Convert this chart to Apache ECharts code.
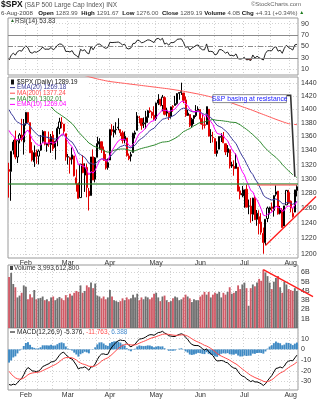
<!DOCTYPE html>
<html><head><meta charset="utf-8">
<script src="https://cdn.jsdelivr.net/npm/echarts@6/dist/echarts.min.js"></script>
<style>html,body{margin:0;padding:0;background:#fff}#c{width:322px;height:400px}</style>
</head><body><div id="c"></div>
<script>
// Daily sessions shown on the chart, 22 Jan - 6 Aug 2008
const dates = [
 '2008-01-22','2008-01-23','2008-01-24','2008-01-25','2008-01-28','2008-01-29','2008-01-30','2008-01-31',
 '2008-02-01','2008-02-04','2008-02-05','2008-02-06','2008-02-07','2008-02-08','2008-02-11','2008-02-12','2008-02-13','2008-02-14','2008-02-15','2008-02-19','2008-02-20','2008-02-21','2008-02-22','2008-02-25','2008-02-26','2008-02-27','2008-02-28','2008-02-29',
 '2008-03-03','2008-03-04','2008-03-05','2008-03-06','2008-03-07','2008-03-10','2008-03-11','2008-03-12','2008-03-13','2008-03-14','2008-03-17','2008-03-18','2008-03-19','2008-03-20','2008-03-24','2008-03-25','2008-03-26','2008-03-27','2008-03-28','2008-03-31',
 '2008-04-01','2008-04-02','2008-04-03','2008-04-04','2008-04-07','2008-04-08','2008-04-09','2008-04-10','2008-04-11','2008-04-14','2008-04-15','2008-04-16','2008-04-17','2008-04-18','2008-04-21','2008-04-22','2008-04-23','2008-04-24','2008-04-25','2008-04-28','2008-04-29','2008-04-30',
 '2008-05-01','2008-05-02','2008-05-05','2008-05-06','2008-05-07','2008-05-08','2008-05-09','2008-05-12','2008-05-13','2008-05-14','2008-05-15','2008-05-16','2008-05-19','2008-05-20','2008-05-21','2008-05-22','2008-05-23','2008-05-27','2008-05-28','2008-05-29','2008-05-30',
 '2008-06-02','2008-06-03','2008-06-04','2008-06-05','2008-06-06','2008-06-09','2008-06-10','2008-06-11','2008-06-12','2008-06-13','2008-06-16','2008-06-17','2008-06-18','2008-06-19','2008-06-20','2008-06-23','2008-06-24','2008-06-25','2008-06-26','2008-06-27','2008-06-30',
 '2008-07-01','2008-07-02','2008-07-03','2008-07-07','2008-07-08','2008-07-09','2008-07-10','2008-07-11','2008-07-14','2008-07-15','2008-07-16','2008-07-17','2008-07-18','2008-07-21','2008-07-22','2008-07-23','2008-07-24','2008-07-25','2008-07-28','2008-07-29','2008-07-30','2008-07-31',
 '2008-08-01','2008-08-04','2008-08-05','2008-08-06'
];
const opens = [
 1312.94,1310.41,1340.13,1357.32,1330.70,1355.94,1362.22,1351.98,
 1378.60,1395.38,1380.28,1339.48,1324.01,1336.88,1331.92,1340.55,1353.12,1367.33,1347.52,1355.86,1348.39,1362.21,1344.22,1352.75,1371.76,1378.95,1378.16,1364.07,
 1330.45,1329.58,1327.69,1332.20,1301.53,1293.16,1274.40,1321.13,1305.26,1316.05,1283.21,1277.16,1330.97,1299.67,1330.29,1349.07,1352.45,1340.34,1327.02,1315.92,
 1326.41,1369.96,1365.69,1369.85,1373.69,1370.16,1365.50,1355.37,1357.98,1332.20,1331.72,1337.02,1363.37,1369.00,1387.72,1386.43,1378.40,1380.52,1387.88,1397.96,1395.61,1391.22,
 1385.97,1409.16,1415.34,1405.60,1417.49,1394.29,1394.90,1389.40,1404.40,1405.65,1408.36,1423.89,1425.28,1424.49,1414.06,1390.83,1392.20,1375.97,1386.54,1390.50,1398.36,
 1399.62,1386.42,1376.26,1377.48,1400.06,1360.83,1358.98,1357.09,1335.78,1341.81,1358.85,1360.71,1349.59,1336.89,1341.02,1319.77,1317.23,1314.54,1316.29,1283.60,1278.06,
 1276.69,1285.82,1262.96,1262.90,1251.84,1273.38,1245.25,1248.66,1241.61,1226.83,1214.65,1246.31,1258.22,1261.82,1257.08,1278.87,1283.22,1253.51,1257.76,1236.38,1264.52,1281.37,
 1269.42,1253.27,1254.87,1283.99
];
const highs = [
 1322.53,1339.02,1355.15,1368.56,1353.97,1364.93,1385.86,1385.62,
 1396.02,1395.38,1380.28,1351.96,1347.16,1341.22,1341.40,1362.10,1369.23,1368.16,1350.00,1367.28,1363.71,1367.94,1354.30,1374.36,1387.34,1388.34,1378.16,1364.07,
 1335.13,1331.03,1344.19,1332.20,1313.24,1295.01,1320.65,1333.26,1321.68,1321.47,1287.50,1330.74,1341.51,1330.67,1359.68,1357.47,1352.45,1345.62,1334.87,1328.52,
 1370.18,1377.95,1375.66,1380.91,1386.74,1370.16,1368.39,1367.24,1357.98,1335.64,1337.72,1365.49,1368.60,1395.90,1390.23,1386.43,1387.87,1397.72,1399.11,1402.90,1397.00,1404.57,
 1410.07,1422.72,1415.34,1421.57,1419.54,1402.35,1394.90,1404.06,1406.30,1420.19,1424.40,1425.82,1440.24,1424.49,1419.12,1399.07,1392.20,1387.40,1391.25,1406.32,1404.46,
 1399.62,1393.12,1388.18,1404.05,1400.06,1370.63,1366.84,1357.09,1353.03,1360.03,1364.70,1366.59,1349.59,1347.66,1341.02,1323.78,1326.02,1335.63,1316.29,1289.45,1290.31,
 1285.31,1292.17,1271.73,1273.95,1274.17,1277.36,1257.65,1257.27,1253.50,1234.35,1245.52,1262.31,1262.23,1267.74,1277.42,1291.17,1283.22,1263.23,1260.09,1263.20,1284.33,1284.93,
 1270.52,1260.49,1284.88,1291.67
];
const lows = [
 1274.29,1270.05,1334.31,1327.50,1322.26,1350.19,1352.95,1334.08,
 1375.93,1379.69,1336.64,1324.34,1316.75,1321.06,1320.32,1339.36,1350.78,1347.31,1338.13,1345.05,1336.55,1339.34,1327.04,1346.03,1363.29,1372.00,1363.16,1325.42,
 1320.04,1307.39,1320.22,1303.42,1282.43,1272.66,1274.40,1307.86,1282.11,1274.86,1256.98,1277.16,1298.42,1295.22,1330.29,1341.21,1336.41,1325.66,1312.95,1312.81,
 1326.41,1361.55,1358.68,1362.83,1369.02,1360.62,1349.97,1350.11,1331.21,1326.16,1324.35,1337.02,1357.25,1369.00,1379.25,1369.84,1372.24,1371.09,1379.98,1394.40,1386.70,1384.25,
 1383.07,1406.25,1404.37,1397.10,1391.16,1389.39,1384.11,1386.20,1396.26,1405.65,1406.87,1414.35,1421.63,1409.09,1388.81,1390.23,1373.72,1373.07,1378.16,1388.59,1398.08,
 1377.79,1370.12,1371.74,1377.48,1359.90,1350.62,1351.56,1335.47,1331.29,1341.71,1352.07,1350.54,1333.40,1330.78,1314.46,1315.31,1304.42,1314.54,1283.15,1272.00,1274.86,
 1260.68,1261.51,1252.01,1240.68,1242.84,1244.57,1236.76,1225.35,1225.01,1200.44,1211.39,1241.49,1251.81,1255.70,1248.83,1276.06,1251.48,1251.75,1234.37,1236.38,1264.52,1265.97,
 1254.54,1247.45,1254.67,1276.00
];
const closes = [
 1310.50,1338.60,1352.07,1330.61,1353.96,1362.30,1355.81,1378.55,
 1395.42,1380.82,1336.64,1326.45,1336.91,1331.29,1339.13,1348.86,1367.21,1348.86,1349.99,1348.78,1360.03,1342.53,1353.11,1371.80,1381.29,1380.02,1367.68,1330.63,
 1331.34,1326.75,1333.70,1304.34,1293.37,1273.37,1320.65,1308.77,1315.48,1288.14,1276.60,1330.74,1298.42,1329.51,1349.88,1352.99,1341.13,1325.76,1315.22,1322.70,
 1370.18,1367.53,1369.31,1370.40,1372.54,1365.54,1354.49,1360.55,1332.83,1328.32,1334.43,1364.71,1365.56,1390.33,1388.17,1375.94,1379.93,1388.82,1397.84,1396.37,1390.94,1385.59,
 1409.34,1413.90,1407.49,1418.26,1392.57,1397.68,1388.28,1403.58,1403.04,1408.66,1423.57,1425.35,1426.63,1413.40,1390.71,1394.35,1375.93,1385.35,1390.84,1398.26,1400.38,
 1385.67,1377.65,1377.20,1404.05,1360.68,1361.76,1358.44,1335.49,1339.87,1360.03,1360.14,1350.93,1337.81,1342.83,1317.93,1318.00,1314.29,1321.97,1283.15,1278.38,1280.00,
 1284.91,1261.52,1262.90,1252.31,1273.70,1244.69,1253.39,1239.49,1228.30,1214.91,1245.36,1260.32,1260.68,1260.00,1277.00,1282.19,1252.54,1257.76,1234.37,1263.20,1284.26,1267.38,
 1260.31,1249.01,1284.88,1289.19
];
// Volume in billions of shares
const volumesB = [
 5.5,5.95,4.75,4.4,3.3,3.5,3.8,4.6,
 4.45,3.1,3.65,3.3,4.1,3.1,3.2,3.25,3.4,3.0,3.1,2.9,3.3,3.4,3.0,3.2,3.35,3.2,3.0,3.55,
 3.3,3.7,3.5,3.8,4.0,3.9,4.6,3.8,4.0,4.6,4.4,4.9,4.3,4.8,3.5,3.4,3.2,3.4,3.1,3.3,
 4.1,3.4,3.0,2.9,2.8,2.9,3.2,3.0,3.3,3.1,3.2,3.6,3.3,3.7,3.0,3.3,3.1,3.4,3.3,3.1,3.3,3.7,
 3.8,3.3,2.9,3.4,3.5,3.0,2.8,2.9,3.2,3.4,3.3,3.0,3.1,3.3,3.6,3.4,3.2,2.8,3.1,3.0,3.0,
 3.4,3.6,3.9,3.6,3.9,3.3,3.6,3.8,3.7,3.9,3.3,3.8,3.6,3.9,4.4,3.7,3.8,4.0,4.6,4.2,4.7,
 4.9,4.3,2.4,4.3,4.7,4.5,4.9,5.3,5.1,6.3,6.0,5.6,4.9,4.2,5.0,5.4,5.6,4.4,3.8,5.0,4.7,4.2,
 4.1,4.0,4.3,3.9936128
];
// 50-day simple moving average
const ma50 = [
 1445.63,1442.91,1440.88,1438.71,1436.17,1434.00,1432.09,1430.49,
 1429.73,1428.55,1426.95,1424.66,1423.25,1421.31,1418.71,1416.29,1414.01,1411.54,1409.28,1406.56,1403.61,1400.37,1397.11,1394.99,1392.88,1390.71,1388.70,1386.39,
 1383.92,1381.39,1378.86,1375.26,1371.20,1366.71,1363.60,1360.21,1357.15,1353.97,1350.56,1348.94,1346.58,1345.37,1344.18,1342.83,1341.63,1339.82,1338.51,1337.50,
 1338.24,1339.13,1340.31,1340.94,1341.35,1342.05,1342.06,1342.03,1341.57,1340.56,1339.34,1339.02,1339.60,1340.88,1341.90,1342.80,1343.61,1344.41,1345.02,1345.97,1346.79,1347.53,
 1348.52,1349.94,1351.03,1351.96,1352.19,1352.54,1352.95,1354.41,1355.85,1357.48,1359.28,1361.70,1364.37,1367.17,1368.57,1370.28,1371.49,1373.43,1375.72,1377.07,1379.11,
 1380.23,1380.79,1381.27,1382.53,1383.23,1384.16,1384.87,1384.18,1383.63,1383.44,1383.23,1382.80,1382.25,1382.02,1381.17,1380.87,1380.59,1380.34,1378.71,1376.97,1374.76,
 1372.69,1370.40,1368.06,1365.33,1362.85,1359.82,1357.07,1354.15,1350.53,1346.55,1343.31,1340.15,1337.51,1334.76,1332.53,1330.10,1327.09,1324.07,1320.29,1317.05,1314.20,1311.28,
 1308.67,1305.76,1303.94,1302.01
];
// 200-day simple moving average
const ma200 = [
 1484.0,1483.0,1482.0,1481.5,1480.5,1479.5,1478.5,1477.5,
 1476.5,1475.6,1474.7,1473.8,1472.9,1472.0,1471.1,1470.2,1469.3,1468.4,1467.5,1466.6,1465.7,1464.8,1463.9,1463.0,1462.1,1461.2,1460.3,1459.4,
 1458.5,1457.6,1456.7,1455.8,1454.9,1454.0,1453.1,1452.2,1451.3,1450.4,1449.5,1448.6,1447.7,1446.8,1446.0,1445.3,1444.6,1443.9,1443.2,1442.6,
 1442.0,1441.6,1441.2,1440.8,1440.4,1440.0,1439.6,1439.2,1438.8,1438.4,1438.0,1437.6,1437.2,1436.8,1436.4,1436.0,1435.6,1435.2,1434.8,1434.4,1434.0,1433.6,
 1433.2,1432.8,1432.4,1432.0,1431.6,1431.2,1430.8,1430.3,1429.8,1429.3,1428.8,1428.3,1427.8,1427.2,1426.6,1426.0,1425.4,1424.8,1424.2,1423.6,1423.0,
 1422.3,1421.6,1420.9,1420.2,1419.4,1418.6,1417.8,1417.0,1416.1,1415.2,1414.3,1413.4,1412.4,1411.4,1410.4,1409.4,1408.3,1407.2,1406.1,1405.0,1403.9,
 1402.8,1401.7,1400.6,1399.5,1398.3,1397.1,1395.9,1394.7,1393.5,1392.3,1391.1,1389.9,1388.7,1387.5,1386.3,1385.1,1384.0,1382.9,1381.8,1380.7,1379.7,1378.8,
 1378.3,1377.9,1377.6,1377.24
];
// Indicator state carried in from the session before the first bar (18 Jan 2008)
const prevClose = 1325.19;
const ema10Seed = 1381.9, ema20Seed = 1408.8;
const ema12Seed = 1389.1, ema26Seed = 1417.8, signalSeed = -17.4;
const rsiGainSeed = 4.78, rsiLossSeed = 12.28;

// Axis ticks
const priceTicks = [1200,1220,1240,1260,1280,1300,1320,1340,1360,1380,1400,1420,1440];
const rsiTicks = [10,30,50,70,90];
const volTicks = [1,2,3,4,5,6];
const macdTicks = [10,0,-10,-20,-30];
const monthNames = ['Jan','Feb','Mar','Apr','May','Jun','Jul','Aug','Sep','Oct','Nov','Dec'];

// Chart annotations (category index, value)
const resistanceLevel = 1293;
const resistanceRecent = {from: 118, to: 137, level: 1292};
const supportTrend = [[122, 1211], [137, 1251]];
const volumeTrend = [[121, 6.3], [137, 4.33]];
const noteText = 'S&P basing at resistance';
const noteBox = {x0: 97, x1: 132, top: 1422, bottom: 1410};
const notePointer = [[132, 1421], [134, 1421], [136, 1303]];

// ---- indicators from closing prices ----
function ema(src, n, seed) { const k = 2 / (n + 1); let e = seed; return src.map(v => (e = e + k * (v - e))); }
const ema10 = ema(closes, 10, ema10Seed);
const ema20 = ema(closes, 20, ema20Seed);
const ema12 = ema(closes, 12, ema12Seed);
const ema26 = ema(closes, 26, ema26Seed);
const macd = ema12.map((v, i) => v - ema26[i]);
const signal = ema(macd, 9, signalSeed);
const hist = macd.map((v, i) => v - signal[i]);
const rsi = [];
(function () { let g = rsiGainSeed, l = rsiLossSeed, pc = prevClose;
  closes.forEach(c => { const d = c - pc; g = (g * 13 + Math.max(d, 0)) / 14; l = (l * 13 + Math.max(-d, 0)) / 14; rsi.push(100 - 100 / (1 + g / l)); pc = c; }); })();
const rsiBase = rsi.map(v => Math.min(v, 30));
const rsiBelow = rsi.map(v => 30 - Math.min(v, 30));

const last = a => a[a.length - 1];
const UP = '#000000', DOWN = '#e00000';
const dirColor = i => closes[i] >= (i ? closes[i - 1] : prevClose) ? UP : DOWN;

const candleData = closes.map((c, i) => {
  const col = dirColor(i), hollow = c > opens[i];
  return { value: [opens[i], c, lows[i], highs[i]],
    itemStyle: { color: hollow ? '#fff' : col, color0: hollow ? '#fff' : col, borderColor: col, borderColor0: col } };
});
const volData = volumesB.map((v, i) => ({ value: v,
  itemStyle: { color: dirColor(i) === UP ? '#6f6f6f' : '#d05a66' } }));

// ---- layout ----
const FONT = 'Liberation Sans, Arial, sans-serif';
const GRID_COLOR = '#d2d2d2';
const L = 8, R = 24;
const grids = [
  { top: 18, height: 57 },
  { top: 77, height: 181 },
  { top: 265, height: 63 },
  { top: 328, height: 62 }
].map(g => Object.assign({ left: L, right: R, show: true, borderColor: '#9a9a9a', borderWidth: 1, backgroundColor: '#fff' }, g));

const monthOf = i => dates[i].slice(5, 7);
const monthStart = i => i > 0 && monthOf(i) !== monthOf(i - 1);
const third = i => { const d = +dates[i].slice(8); return d < 11 ? 0 : d < 21 ? 1 : 2; };
const gridMark = i => i > 0 && (monthStart(i) || third(i) !== third(i - 1));

const xAxes = [0, 1, 2, 3].map(k => ({
  type: 'category', gridIndex: k, data: dates, boundaryGap: true,
  axisLine: { show: false }, axisTick: { show: false },
  splitLine: { show: true, interval: (i) => gridMark(i), lineStyle: { color: GRID_COLOR, type: [1, 2], width: 1 } },
  axisLabel: { show: k === 1 || k === 3, interval: (i) => monthStart(i), margin: 2,
    formatter: v => monthNames[+v.slice(5, 7) - 1], fontSize: 7, color: '#333', fontFamily: FONT }
}));
const yCommon = (k, ticks, extra) => Object.assign({
  gridIndex: k, position: 'right', scale: false,
  axisLine: { show: false },
  axisTick: { show: false, customValues: ticks },
  axisLabel: { customValues: ticks, fontSize: 7, color: '#333', margin: 3, fontFamily: FONT, formatter: v => String(v) },
  splitLine: { show: true, lineStyle: { color: GRID_COLOR, type: [1, 2] } }
}, extra);
const yAxes = [
  yCommon(0, rsiTicks, { type: 'value', min: 0, max: 100 }),
  yCommon(1, priceTicks, { type: 'log', logBase: 10, min: 1195, max: 1449 }),
  yCommon(2, volTicks, { type: 'value', min: 0, max: 6.8 }),
  yCommon(3, macdTicks, { type: 'value', min: -38, max: 20 })
];
yAxes[2].axisLabel.formatter = v => v + 'B';

const line = (name, data, color, ax, extra) => Object.assign({
  name, type: 'line', data, xAxisIndex: ax, yAxisIndex: ax, symbol: 'none', silent: true,
  lineStyle: { color, width: 1 }, itemStyle: { color }, z: 3
}, extra || {});

const chart = echarts.init(document.getElementById('c'), null, { renderer: 'canvas', width: 322, height: 400 });
chart.setOption({
  animation: false,
  backgroundColor: '#fff',
  grid: grids, xAxis: xAxes, yAxis: yAxes,
  series: [
    { name: '$SPX (Daily)', type: 'candlestick', xAxisIndex: 1, yAxisIndex: 1, data: candleData,
      barWidth: '78%', silent: true, z: 2,
      markLine: { symbol: 'none', silent: true, label: { show: false }, animation: false, data: [
        { yAxis: resistanceLevel, lineStyle: { color: 'rgba(40,130,40,0.6)', width: 2, type: 'solid' } },
        [{ coord: [resistanceRecent.from, resistanceRecent.level], lineStyle: { color: 'rgba(255,100,100,0.8)', width: 1.5, type: 'solid' } },
         { coord: [resistanceRecent.to, resistanceRecent.level] }]
      ] } },
    line('EMA(20)', ema20, '#3a3a9a', 1),
    line('MA(200)', ma200, '#ff5a5a', 1),
    line('MA(50)', ma50, '#2f8a2f', 1),
    line('EMA(10)', ema10, '#ff00ff', 1),
    line('RSI(14)', rsi, '#222', 0, { markLine: { symbol: 'none', silent: true, label: { show: false }, animation: false, data: [
      { yAxis: 70, lineStyle: { color: '#8a8a8a', width: 1, type: 'solid' } },
      { yAxis: 30, lineStyle: { color: '#8a8a8a', width: 1, type: 'solid' } },
      { yAxis: 50, lineStyle: { color: '#8a8a8a', width: 1, type: [5, 2, 1, 2] } }] } }),
    line('rsiBase', rsiBase, 'transparent', 0, { stack: 'os', lineStyle: { width: 0 }, z: 1 }),
    line('rsiBelow', rsiBelow, 'transparent', 0, { stack: 'os', lineStyle: { width: 0 }, areaStyle: { color: '#e03030', opacity: 0.9 }, z: 1 }),
    { name: 'Volume', type: 'bar', xAxisIndex: 2, yAxisIndex: 2, data: volData, barCategoryGap: '12%', silent: true },
    { name: 'Hist', type: 'bar', xAxisIndex: 3, yAxisIndex: 3, data: hist, barCategoryGap: '8%', silent: true,
      itemStyle: { color: '#3f8ac4' } },
    line('MACD', macd, '#000', 3),
    line('Signal', signal, '#ff4a4a', 3)
  ]
});

// ---- texts and annotations ----
const px = (k, p) => chart.convertToPixel({ xAxisIndex: k, yAxisIndex: k }, p);
const txt = (x, y, text, o) => ({ type: 'text', z: 100, silent: true,
  style: Object.assign({ x, y, text, fontFamily: FONT, fontSize: 6.5, fill: '#222', verticalAlign: 'middle' }, o || {}) });
const seg = (a, b, stroke, w, z) => ({ type: 'line', z: z || 90, silent: true,
  shape: { x1: a[0], y1: a[1], x2: b[0], y2: b[1] }, style: { stroke, lineWidth: w } });
const extendTo = (a, b, x) => [x, a[1] + (b[1] - a[1]) * (x - a[0]) / (b[0] - a[0])];
const fmt = v => v.toFixed(2);
const fmtInt = n => Math.round(n).toString().replace(/\B(?=(\d{3})+(?!\d))/g, ',');

const n = closes.length - 1;
const chg = closes[n] - closes[n - 1];
const g = [];
// header
g.push(txt(1, 5, '{t|$SPX} {s|(S&P 500 Large Cap Index) INX}', { rich: {
  t: { fontSize: 8.5, fontWeight: 'bold', fill: '#111', fontFamily: FONT },
  s: { fontSize: 6.5, fill: '#555', fontFamily: FONT } } }));
g.push(txt(301, 4, '\u00A9StockCharts.com', { align: 'right', fill: '#666', fontSize: 6 }));
g.push(txt(1, 13,
  '{d|6-Aug-2008}   {b|Open} {n|' + fmt(opens[n]) + '}  {b|High} {n|' + fmt(highs[n]) + '}  {b|Low} {n|' + fmt(lows[n]) +
  '}  {b|Close} {n|' + fmt(closes[n]) + '} {b|Volume} {n|' + volumesB[n].toFixed(1) + 'B} {b|Chg} {n|' +
  (chg >= 0 ? '+' : '') + chg.toFixed(2) + ' (' + (chg >= 0 ? '+' : '') + (100 * chg / closes[n - 1]).toFixed(2) + '%)} {u|\u25B2}',
  { rich: { d: { fontSize: 6.1, fill: '#444', fontFamily: FONT }, b: { fontSize: 6.1, fontWeight: 'bold', fill: '#111', fontFamily: FONT },
    n: { fontSize: 6.1, fill: '#555', fontFamily: FONT }, u: { fontSize: 5, fill: '#1a7a1a', fontFamily: FONT } } }));
// RSI label
g.push(txt(10, 21, '{i|\u25B2}{t|RSI(14) ' + fmt(last(rsi)) + '}', { rich: {
  i: { fontSize: 5, fill: '#2a6a2a', fontFamily: FONT }, t: { fontSize: 6.5, fill: '#333', fontFamily: FONT } } }));
// price legend
g.push({ type: 'rect', z: 95, silent: true, shape: { x: 9, y: 78, width: 79, height: 29 }, style: { fill: '#fff' } });
const legend = [
  ['$SPX (Daily) ' + fmt(closes[n]), '#111', null],
  ['EMA(20) ' + fmt(last(ema20)), '#3a3a9a', '#3a3a9a'],
  ['MA(200) ' + fmt(last(ma200)), '#ff4a4a', '#ff4a4a'],
  ['MA(50) ' + fmt(last(ma50)), '#2f8a2f', '#2f8a2f'],
  ['EMA(10) ' + fmt(last(ema10)), '#ff00ff', '#ff00ff']
];
legend.forEach((it, i) => {
  const y = 82 + i * 5.6;
  if (it[2]) g.push(seg([10, y], [15, y], it[2], 1, 101));
  else g.push({ type: 'rect', z: 101, silent: true, shape: { x: 11, y: y - 2.5, width: 3, height: 5 }, style: { fill: '#111' } });
  g.push(txt(17, y, it[0], { fill: it[1], fontSize: 6.3 }));
});
// volume + MACD labels
g.push({ type: 'rect', z: 101, silent: true, shape: { x: 10, y: 266, width: 3, height: 4 }, style: { fill: '#444' } });
g.push(txt(14, 268.5, 'Volume ' + fmtInt(last(volumesB) * 1e9), { fill: '#333', fontSize: 6.5 }));
g.push(seg([10, 332], [15, 332], '#000', 1, 101));
g.push(txt(17, 332, '{a|MACD(12,26,9) ' + last(macd).toFixed(3) + ',} {r|' + last(signal).toFixed(3) + ',} {h|' + last(hist).toFixed(3) + '}', { rich: {
  a: { fontSize: 6.5, fill: '#222', fontFamily: FONT }, r: { fontSize: 6.5, fill: '#ff4a4a', fontFamily: FONT }, h: { fontSize: 6.5, fill: '#4a8fd0', fontFamily: FONT } } }));

// trend lines running past the right edge of the plot
const s0 = px(1, supportTrend[0]), s1 = px(1, supportTrend[1]);
g.push(seg(s0, extendTo(s0, s1, 316), '#ff1a1a', 1.3));
const v0 = px(2, volumeTrend[0]), v1 = px(2, volumeTrend[1]);
g.push(seg(v0, extendTo(v0, v1, 313), '#ff1a1a', 1.3));
// note box and pointer
const b0 = px(1, [noteBox.x0, noteBox.top]), b1 = px(1, [noteBox.x1, noteBox.bottom]);
const ptr = notePointer.map(p => px(1, p));
g.push({ type: 'polyline', z: 96, silent: true, shape: { points: ptr }, style: { stroke: '#fff', lineWidth: 3.5, fill: null } });
g.push({ type: 'polyline', z: 97, silent: true, shape: { points: ptr }, style: { stroke: '#333', lineWidth: 1.6, fill: null } });
g.push({ type: 'rect', z: 98, silent: true, shape: { x: b0[0], y: b0[1], width: b1[0] - b0[0], height: b1[1] - b0[1] },
  style: { fill: '#fff', stroke: '#8a8a8a', lineWidth: 1 } });
g.push(txt((b0[0] + b1[0]) / 2, (b0[1] + b1[1]) / 2, noteText, { align: 'center', fill: '#1a1aff', fontSize: 6.8, z: 99 }));

chart.setOption({ graphic: g });
</script>
</body></html>
